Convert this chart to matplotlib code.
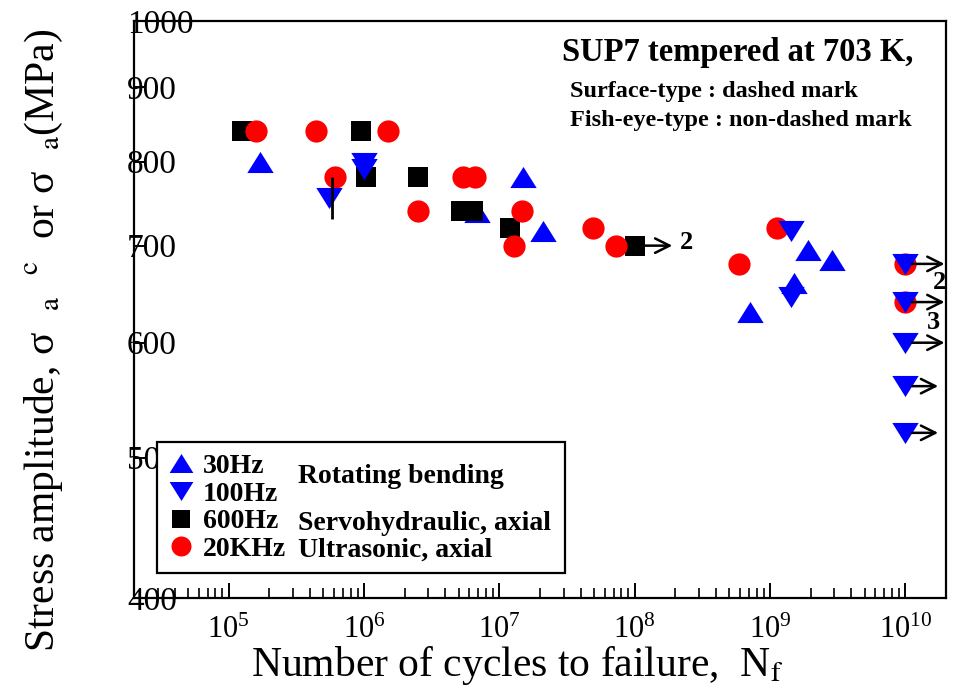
import numpy as np
import matplotlib
matplotlib.use("Agg")
import matplotlib.pyplot as plt
from matplotlib.ticker import FixedLocator, NullLocator, NullFormatter, LogLocator

plt.rcParams["font.family"] = ["Liberation Serif", "DejaVu Serif"]
plt.rcParams["mathtext.fontset"] = "stix"

# 30Hz rotating bending (up triangles)
n_30hz = [1.7e5, 6.85e6, 1.5e7, 2.1e7, 7.1e8, 1.5e9, 1.9e9, 2.9e9]
s_30hz = [800, 738, 780, 717, 630, 660, 695, 684]

# 100Hz rotating bending (down triangles)
n_100hz = [5.5e5, 1.0e6, 1.0e6, 1.43e9, 1.43e9, 1e10, 1e10, 1e10, 1e10, 1e10]
s_100hz = [755, 798, 790, 716, 645, 680, 640, 600, 560, 520]

# 600Hz servohydraulic axial (squares)
n_600hz = [1.25e5, 9.5e5, 1.03e6, 2.5e6, 5.2e6, 6.4e6, 1.2e7, 1.0e8]
s_600hz = [840, 840, 780, 780, 740, 740, 720, 700]

# 20kHz ultrasonic axial (circles)
n_20khz = [1.6e5, 4.4e5, 6.1e5, 1.5e6, 2.5e6, 5.4e6, 6.6e6, 1.47e7, 1.28e7,
           4.9e7, 7.3e7, 5.9e8, 1.13e9, 1e10, 1e10]
s_20khz = [840, 840, 780, 840, 740, 780, 780, 740, 700,
           720, 700, 680, 720, 680, 640]

# run-outs (arrows): start, end, stress
runout_start = [1.15e8, 1.12e10, 1.12e10, 1.12e10, 1.12e10, 1.12e10]
runout_end = [1.9e8, 1.95e10, 1.95e10, 1.95e10, 1.75e10, 1.75e10]
runout_s = [700, 680, 640, 600, 560, 520]

# counts written next to run-outs
count_n = [2.15e8, 1.6e10, 1.45e10]
count_s = [703, 660, 620]
count_txt = ["2", "2", "3"]

# scatter band drawn as a vertical bar
band_n = 5.8e5
band_lo, band_hi = 730, 780

yticks = [400, 500, 600, 700, 800, 900, 1000]
xticks = [1e5, 1e6, 1e7, 1e8, 1e9, 1e10]

blue = "#0000ff"
red = "#ff0000"

# wider-than-tall triangles
tri_up = [(-1.25, -1), (1.25, -1), (0, 1)]
tri_dn = [(-1.25, 1), (1.25, 1), (0, -1)]

fig = plt.figure(figsize=(9.57, 6.92), dpi=100)
ax = fig.add_axes([0.140, 0.1358, 0.8485, 0.8338])

ax.set_xscale("log")
ax.set_yscale("log")
ax.set_xlim(2e4, 2e10)
ax.set_ylim(400, 1000)

ax.plot(n_30hz, s_30hz, ls="none", marker=tri_up, ms=19, color=blue, mew=0,
        label="30Hz", zorder=3)
ax.plot(n_600hz, s_600hz, ls="none", marker="s", ms=14.5, color="black", mew=0,
        label="600Hz", zorder=4)
ax.plot(n_20khz, s_20khz, ls="none", marker="o", ms=16, color=red, mew=0,
        label="20KHz", zorder=5)
ax.plot(n_100hz, s_100hz, ls="none", marker=tri_dn, ms=19, color=blue, mew=0,
        label="100Hz", zorder=6)

ax.vlines(band_n, band_lo, band_hi, color="black", lw=2, zorder=7)

for x0, x1, s in zip(runout_start, runout_end, runout_s):
    ax.annotate("", xy=(x1, s), xytext=(x0, s),
                arrowprops=dict(arrowstyle="->", lw=1.8, color="black",
                                mutation_scale=26, shrinkA=0, shrinkB=0),
                zorder=8)
for n, s, t in zip(count_n, count_s, count_txt):
    ax.text(n, s, t, fontsize=19, fontweight="bold", ha="left", va="center",
            zorder=8)

# axes, ticks
for sp in ax.spines.values():
    sp.set_linewidth(1.6)

ax.xaxis.set_major_locator(FixedLocator(xticks))
ax.xaxis.set_minor_locator(LogLocator(base=10, subs=np.arange(2, 10)))
ax.xaxis.set_minor_formatter(NullFormatter())
ax.tick_params(axis="x", which="major", direction="in", length=11, width=1.4,
               labelsize=22, pad=13, top=False)
ax.tick_params(axis="x", which="minor", direction="in", length=7, width=1.2,
               top=False)

ax.yaxis.set_major_locator(FixedLocator(yticks))
ax.yaxis.set_minor_locator(NullLocator())
ax.set_yticklabels([str(v) for v in yticks])
ax.tick_params(axis="y", which="major", direction="in", length=8, width=1.4,
               labelsize=24, pad=5, right=False)
for lab in ax.get_yticklabels():
    lab.set_horizontalalignment("left")

ax.set_xlabel(r"Number of cycles to failure,  N$_{\mathrm{f}}$", fontsize=30)
ax.xaxis.set_label_coords(0.472, -0.079)
ax.set_ylabel(r"Stress amplitude, σ  $_{\mathrm{a}}$  $^{\mathrm{c}}$  or "
              r"σ  $_{\mathrm{a}}$(MPa)", fontsize=30)
ax.yaxis.set_label_coords(-0.085, 0.447)

# condition notes
ax.text(0.96, 0.945, "SUP7 tempered at 703 K,", transform=ax.transAxes,
        fontsize=23.5, fontweight="bold", ha="right", va="center")
ax.text(0.537, 0.878, "Surface-type : dashed mark", transform=ax.transAxes,
        fontsize=17.5, fontweight="bold", ha="left", va="center")
ax.text(0.537, 0.828, "Fish-eye-type : non-dashed mark", transform=ax.transAxes,
        fontsize=17.5, fontweight="bold", ha="left", va="center")

# legend with test-type notes
handles, labels = ax.get_legend_handles_labels()
order = [labels.index(k) for k in ["30Hz", "100Hz", "600Hz", "20KHz"]]
leg = ax.legend([handles[i] for i in order], [labels[i] for i in order],
                loc="lower left", bbox_to_anchor=(0.0283, 0.0433, 0.5025, 0.2305),
                mode="expand", borderaxespad=0, fancybox=False, framealpha=1,
                edgecolor="black", prop=dict(weight="bold", size=20),
                labelspacing=0.08, borderpad=0.4, handlelength=0.9,
                handletextpad=0.35, markerscale=0.9)
leg.get_frame().set_linewidth(1.6)
leg.set_zorder(9)

ax.text(0.202, 0.210, "Rotating bending", transform=ax.transAxes, fontsize=20,
        fontweight="bold", ha="left", va="center", zorder=10)
ax.text(0.202, 0.130, "Servohydraulic, axial", transform=ax.transAxes,
        fontsize=20, fontweight="bold", ha="left", va="center", zorder=10)
ax.text(0.202, 0.083, "Ultrasonic, axial", transform=ax.transAxes, fontsize=20,
        fontweight="bold", ha="left", va="center", zorder=10)

fig.savefig("out.png", dpi=100)
plt.close(fig)
